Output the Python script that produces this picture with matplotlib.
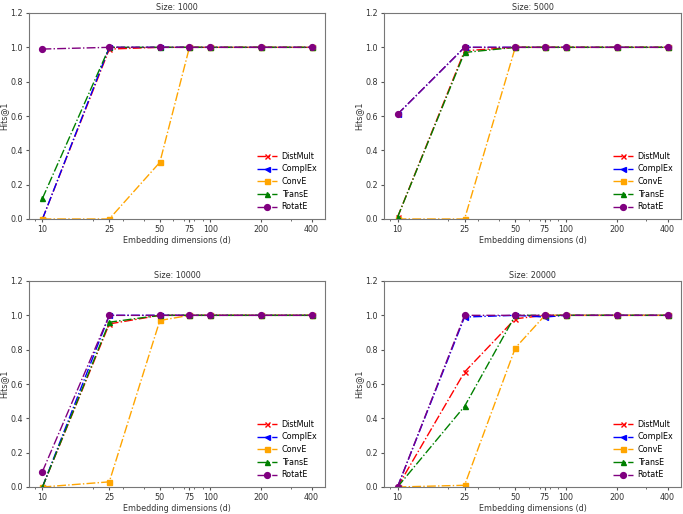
import matplotlib
matplotlib.use("Agg")
import matplotlib.pyplot as plt
from matplotlib.ticker import FixedLocator, FixedFormatter

dims = [10, 25, 50, 75, 100, 200, 400]
sizes = ["1000", "5000", "10000", "20000"]
models = ["DistMult", "ComplEx", "ConvE", "TransE", "RotatE"]

# Hits@1 per dataset size, one list per model
distmult = {
    "1000":  [0.0, 0.99, 1.0, 1.0, 1.0, 1.0, 1.0],
    "5000":  [0.01, 0.98, 1.0, 1.0, 1.0, 1.0, 1.0],
    "10000": [0.0, 0.95, 1.0, 1.0, 1.0, 1.0, 1.0],
    "20000": [0.0, 0.67, 0.98, 1.0, 1.0, 1.0, 1.0],
}
complex_ = {
    "1000":  [0.0, 1.0, 1.0, 1.0, 1.0, 1.0, 1.0],
    "5000":  [0.61, 1.0, 1.0, 1.0, 1.0, 1.0, 1.0],
    "10000": [0.0, 1.0, 1.0, 1.0, 1.0, 1.0, 1.0],
    "20000": [0.0, 0.99, 1.0, 0.99, 1.0, 1.0, 1.0],
}
conve = {
    "1000":  [0.0, 0.0, 0.33, 1.0, 1.0, 1.0, 1.0],
    "5000":  [0.0, 0.0, 1.0, 1.0, 1.0, 1.0, 1.0],
    "10000": [0.0, 0.03, 0.97, 1.0, 1.0, 1.0, 1.0],
    "20000": [0.0, 0.01, 0.81, 1.0, 1.0, 1.0, 1.0],
}
transe = {
    "1000":  [0.12, 1.0, 1.0, 1.0, 1.0, 1.0, 1.0],
    "5000":  [0.01, 0.97, 1.0, 1.0, 1.0, 1.0, 1.0],
    "10000": [0.0, 0.96, 1.0, 1.0, 1.0, 1.0, 1.0],
    "20000": [0.0, 0.47, 1.0, 1.0, 1.0, 1.0, 1.0],
}
rotate = {
    "1000":  [0.99, 1.0, 1.0, 1.0, 1.0, 1.0, 1.0],
    "5000":  [0.61, 1.0, 1.0, 1.0, 1.0, 1.0, 1.0],
    "10000": [0.09, 1.0, 1.0, 1.0, 1.0, 1.0, 1.0],
    "20000": [0.0, 1.0, 1.0, 1.0, 1.0, 1.0, 1.0],
}
series = [distmult, complex_, conve, transe, rotate]
colors = ["red", "blue", "orange", "green", "purple"]
markers = ["x", "<", "s", "^", "o"]

W, H = 683, 514
fs = 5.8
fig = plt.figure(figsize=(W / 100, H / 100), dpi=100)
# axes boxes in pixels: (left, top, right, bottom)
boxes = [(29, 13, 325, 219), (384, 13, 681, 219),
         (29, 281, 325, 487), (384, 281, 681, 487)]

for size, (l, t, r, b) in zip(sizes, boxes):
    ax = fig.add_axes([l / W, 1 - b / H, (r - l) / W, (b - t) / H])
    for name, data, c, m in zip(models, series, colors, markers):
        ax.plot(dims, data[size], linestyle="-.", color=c, marker=m,
                markersize=3.6 if m != "o" else 4.2, linewidth=1.0,
                label=name)
    ax.set_xscale("log")
    ax.xaxis.set_major_locator(FixedLocator(dims))
    ax.xaxis.set_major_formatter(FixedFormatter([str(d) for d in dims]))
    ax.set_ylim(0, 1.2)
    ax.set_yticks([0.0, 0.2, 0.4, 0.6, 0.8, 1.0, 1.2])
    ax.tick_params(labelsize=fs, length=2.5, pad=2, color="#555555",
                   labelcolor="#333333")
    ax.tick_params(which="minor", length=1.5, color="#555555")
    for s in ax.spines.values():
        s.set_color("#777777")
    ax.set_title(f"Size: {size}", fontsize=fs, pad=2, color="#333333")
    ax.set_xlabel("Embedding dimensions (d)", fontsize=fs, labelpad=1,
                  color="#333333")
    ax.set_ylabel("Hits@1", fontsize=fs, labelpad=1, color="#333333")
    ax.legend(loc="lower right", fontsize=fs, frameon=False,
              handlelength=2.4, handletextpad=0.6, borderaxespad=0.55,
              labelspacing=0.45)

fig.savefig("out.png", dpi=100)
